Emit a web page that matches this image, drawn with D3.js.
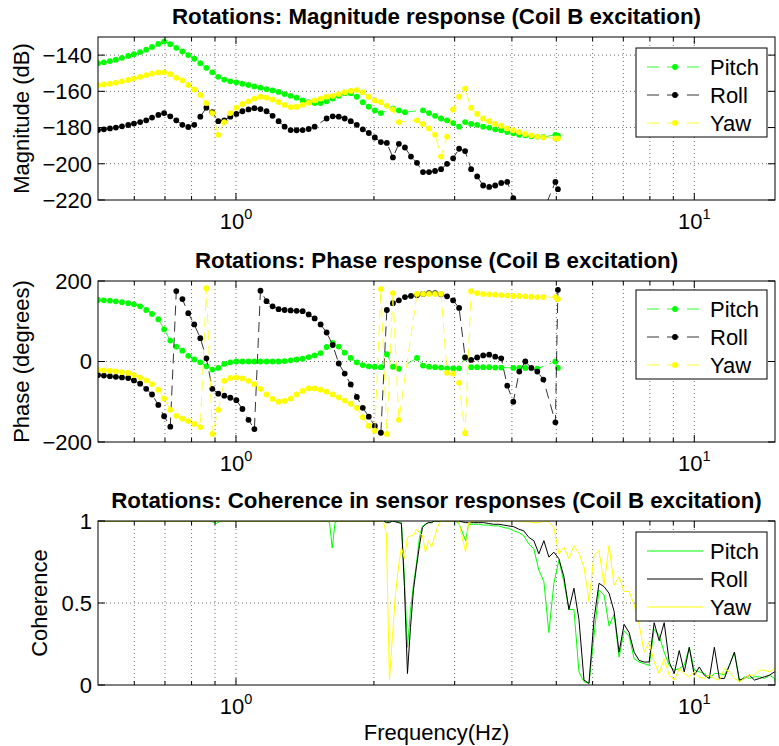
<!DOCTYPE html>
<html>
<head>
<meta charset="utf-8">
<script src="https://cdnjs.cloudflare.com/ajax/libs/d3/7.8.5/d3.min.js"></script>
<style>
body { margin: 0; background: #fff; }
svg text { font-family: "Liberation Sans", Arial, Helvetica, sans-serif; fill: #000; }
</style>
</head>
<body>
<svg id="fig" width="779" height="746"></svg>
<script>
//Rotations: transfer functions for Coil B excitation

// frequencies (Hz) of the magnitude / phase points
var freq = [0.500,0.515,0.531,0.547,0.564,0.582,0.599,0.618,0.637,0.656,
    0.677,0.697,0.719,0.741,0.764,0.787,0.811,0.836,0.862,0.888,
    0.915,0.943,0.972,1.002,1.033,1.065,1.097,1.131,1.166,1.202,
    1.239,1.277,1.316,1.356,1.398,1.441,1.485,1.530,1.577,1.626,
    1.676,1.727,1.780,1.835,1.891,1.949,2.009,2.071,2.134,2.200,
    2.267,2.337,2.409,2.483,2.559,2.638,2.719,2.802,2.888,2.977,
    3.068,3.162,3.259,3.359,3.462,3.569,3.678,3.791,3.908,4.028,
    4.151,4.279,4.410,4.545,4.685,4.829,4.977,5.040];

// magnitude (dB), null = no point
var magPitch = [-144.5,-144,-143.3,-142.5,-141.5,-140.5,-139.5,-138.3,-137,-135.5,
    -133.8,-132.5,-134,-136,-138,-140,-142,-144.5,-147,-149.5,
    -152,-153.5,-154.5,-155,-155.8,-156.5,-157.3,-158,-158.8,-159.5,
    -160.3,-161.5,-162.5,-163.5,-165,-166,-166.5,-166.5,-165.5,-164,
    -162.5,-161,-161,-163,-166,-168.5,-170.5,-172,null,-169.5,
    -170.5,-171.5,null,null,-170.5,-172,-173.5,-175,-176,-177.5,
    -179.5,-177,-178,-178.5,-179.5,-180,-181,-181.5,-182.5,-183.2,
    -184,-184.3,-184.8,-185,-185.2,null,-184,-184.5];
var magRoll = [-181.4,-181,-180.5,-180,-179.3,-178.6,-177.8,-177,-176,-174.5,
    -173,-172,-173.8,-176,-178.5,-179.7,-178.5,-174,-169,-171.5,
    -176.5,-176,-174,-172.5,-171,-170,-169.3,-169.8,-171,-173.5,
    -176.5,-179.5,-181.4,-181.5,-181.4,-180.8,-179.5,null,-175,-173.8,
    -174,-175,-176.5,-178.5,-181,-183,-185.5,-188,-188.5,-196.5,
    -189,-191,-196,-199.5,-204.6,-204.6,-204,-203,-200,-197,
    -191.7,-193,-203,-207,-212,-212.8,-212,-210.6,-210,-219,
    -228,-232,-232,-230,-226,null,-210,-214];
var magYaw = [-156.6,-156.2,-155.8,-155.2,-154.5,-153.7,-152.8,-152,-151,-150.2,
    -149.6,-149.5,-150.5,-152.5,-154,-156.5,-159,-162,-166.5,-172,
    -184,-177,-172,-169,-167,-165.5,-164,-163,-163.5,-164.5,
    -166,-167.5,-168.7,-168.5,-167.5,-166.3,-165,-164,-163,-162.5,
    -161.5,-160.5,-159.8,-159.3,-160.5,-163,-165,-166,-168,-170,
    -177,null,null,-176,-178,-180.5,-184,-196,-185,-170,
    -163,-158.5,-169,-172.5,-175,-176.5,-178,-179,-180.5,-181.5,
    -182.5,-183.5,-184.3,-185,-185.5,null,-186,-186];

// phase (degrees)
var phPitch = [152.8,152,151,149.5,147.5,145,142,137,128,118,
    105,80,52,37,27,14,5,-2,-12,-20,
    -16,-6,-2,0,0,0,0,0,0,0,
    0,1,3,5,7,11,15,21,36,46,
    37,22,9,-2,-9,-12,-13,-14,18,-13,
    -18,null,null,8.7,-10,-13,-14,-15,-17,-17,
    -17,10,-14,-14,-14,-14,-15,-15,null,-16,
    -16,-16,null,-18,null,null,0,-16];
var phRoll = [-33.5,-35,-36.5,-38,-39.5,-41,-47,-55,-68,-82,
    -108,-136,-162,175,155,120,92,58,8,-68,
    -80,-85,-90,-96,-118,-145,-168,176,150,137,
    130,128,127,126,125,117,107,92,72,41,
    -5,-30,-57,-88,-115,-137,-160,-177,128,145,
    152,160,163,165,168,170,170,167,162,152,
    133,10,4,10,15,17,12,8,-60,-100,
    -25,0,-16,-25,-45,null,-151,178];
var phYaw = [-21,-22,-23,-24.5,-26.5,-28.5,-34,-40,-47,-56,
    -70,-92,-120,-135,-142,-148,-155,-163,182,-180,
    -120,-48,-41,-40,-42,-48,-56,-68,-82,-93,
    -100,-98,-92,-82,-73,-67,-67,-70,-75,-82,
    -89,-97,-105,-115,-138,-160,-172,180,-180,170,
    -145,null,null,168,168,168,168,168,-28,-30,
    -53,-178,175,170,168,167,166,165,164,163,
    163,162,161,160,160,null,160,155];

// frequencies (Hz) of the coherence estimate
var cohFreq = [0.5,0.88,0.905,0.93,1.58,1.60,1.622,1.645,1.67,2.0,2.03,
    2.066,2.097,2.129,2.162,2.195,2.228,2.262,2.296,2.331,2.367,2.403,
    2.439,2.476,2.514,2.552,2.591,2.630,2.670,2.711,2.752,2.794,2.837,
    2.910,2.984,3.060,3.170,3.218,
    3.300,3.385,3.471,3.560,3.651,3.744,3.839,3.937,4.038,4.141,
    4.246,4.355,4.466,4.580,4.697,4.816,4.939,5.065,5.194,5.327,
    5.463,5.602,5.745,5.892,6.042,6.196,6.354,6.516,6.683,6.853,
    7.028,7.207,7.391,7.580,7.773,7.971,8.175,8.383,8.597,8.816,
    9.041,9.272,9.508,9.751,10.0,10.255,10.517,10.785,11.06,11.342,
    11.631,11.928,12.232,12.544,12.864,13.192,13.528,13.873,14.227,14.59,
    14.962,15.0];
var cohPitch = [1,1,0.985,1,1,0.99,0.835,0.99,1,1,1,
    1,1,0.995,0.995,1,1,0.995,0.99,0.65,0.23,0.45,
    0.61,0.74,0.9,0.97,0.98,0.99,0.99,1,1,1,1,
    1,1,0.99,0.88,0.98,
    0.98,0.98,0.975,0.975,0.97,0.97,0.96,0.955,0.94,0.93,
    0.91,0.86,0.83,0.70,0.63,0.32,0.62,0.76,0.63,0.46,
    0.46,0.08,0.02,0.01,0.3,0.58,0.55,0.36,0.43,0.17,
    0.33,0.3,0.16,0.14,0.13,0.12,0.34,0.3,0.2,0.12,
    0.09,0.1,0.12,0.23,0.09,0.08,0.07,0.04,0.07,0.07,
    0.06,0.12,0.2,0.02,0.05,0.04,0.05,0.05,0.04,0.06,
    0.04,0.02];
var cohRoll = [1,1,1,1,1,1,1,1,1,1,1,
    1,1,0.99,0.99,1,0.995,0.99,0.985,0.6,0.07,0.35,
    0.58,0.72,0.85,0.96,0.98,0.99,0.99,1,1,1,1,
    1,1,1,0.99,0.99,
    0.99,0.99,0.99,0.985,0.98,0.98,0.975,0.97,0.965,0.95,
    0.94,0.90,0.88,0.80,0.88,0.78,0.81,0.77,0.66,0.46,
    0.59,0.4,0.03,0.01,0.4,0.62,0.6,0.56,0.45,0.2,
    0.37,0.32,0.2,0.15,0.14,0.14,0.38,0.27,0.38,0.14,
    0.07,0.21,0.08,0.23,0.06,0.11,0.06,0.04,0.23,0.04,
    0.04,0.12,0.2,0.03,0.04,0.06,0.03,0.04,0.05,0.06,
    0.08,0.08];
var cohYaw = [1,1,1,1,1,1,1,1,1,1,1,
    1,1,0.92,0.03,0.3,0.55,0.72,0.84,0.77,0.9,0.91,
    0.91,0.95,0.93,0.91,0.81,0.88,0.84,0.9,0.96,1,1,
    1,1,1,0.81,0.99,
    1,1,1,1,1,1,1,1,1,1,
    0.995,0.995,0.99,0.99,1,0.995,0.96,0.8,0.84,0.77,
    0.85,0.8,0.72,0.51,0.79,0.82,0.61,0.85,0.61,0.66,
    0.57,0.57,0.49,0.37,0.2,0.26,0.14,0.07,0.16,0.06,
    0.03,0.1,0.07,0.05,0.08,0.05,0.04,0.06,0.04,0.03,
    0.1,0.08,0.04,0.02,0.04,0.06,0.06,0.09,0.09,0.08,
    0.1,0.1];

var seriesNames = ["Pitch", "Roll", "Yaw"];
var xTicks = [1, 10];
var magTicks = [-220, -200, -180, -160, -140];
var phaseTicks = [-200, 0, 200];
var cohTicks = [0, 0.5, 1];

var colors = ["#00ff00", "#000000", "#ffff00"];
var left = 98, right = 775;
var svg = d3.select("#fig");

var x = d3.scaleLog().domain([0.5, 15]).range([left, right]);

// log grid: every integer multiple of each decade
var xGrid = [];
[0.1, 1, 10].forEach(function(dec){
    for (var k = 1; k < 10; k++) {
        var v = k * dec;
        if (v > 0.5 && v < 15) xGrid.push(v);
    }
});

var panels = [
    {top: 37, bottom: 200, yDomain: [-220, -130], yTicks: magTicks,
     title: "Rotations: Magnitude response (Coil B excitation)", ylabel: "Magnitude (dB)", ylabelX: 29,
     xs: freq, series: [magPitch, magRoll, magYaw], markers: true, legendTop: 48},
    {top: 281, bottom: 442, yDomain: [-200, 200], yTicks: phaseTicks,
     title: "Rotations: Phase response (Coil B excitation)", ylabel: "Phase (degrees)", ylabelX: 29,
     xs: freq, series: [phPitch, phRoll, phYaw], markers: true, legendTop: 290},
    {top: 521, bottom: 685, yDomain: [0, 1], yTicks: cohTicks,
     title: "Rotations: Coherence in sensor responses (Coil B excitation)", ylabel: "Coherence", ylabelX: 47,
     xs: cohFreq, series: [cohPitch, cohRoll, cohYaw], markers: false, legendTop: 532}
];

var defs = svg.append("defs");

panels.forEach(function(p, pi){
    var y = d3.scaleLinear().domain(p.yDomain).range([p.bottom, p.top]);
    var g = svg.append("g");

    defs.append("clipPath").attr("id", "clip" + pi)
        .append("rect")
            .attr("x", left).attr("y", p.top)
            .attr("width", right - left).attr("height", p.bottom - p.top);

    // dotted grid
    g.selectAll(".vgrid").data(xGrid).enter()
        .append("line")
            .attr("x1", d => x(d)).attr("x2", d => x(d))
            .attr("y1", p.top).attr("y2", p.bottom)
            .attr("stroke", "#444").attr("stroke-width", 0.8)
            .attr("stroke-dasharray", "1,3");
    g.selectAll(".hgrid").data(p.yTicks.filter(d => y(d) > p.top + 1 && y(d) < p.bottom - 1)).enter()
        .append("line")
            .attr("x1", left).attr("x2", right)
            .attr("y1", d => y(d)).attr("y2", d => y(d))
            .attr("stroke", "#444").attr("stroke-width", 0.8)
            .attr("stroke-dasharray", "1,3");

    // data
    var dg = g.append("g").attr("clip-path", "url(#clip" + pi + ")");
    p.series.forEach(function(vals, si){
        var pts = p.xs.map((f, i) => [f, vals[i]]).filter(d => d[1] !== null);
        var line = d3.line().x(d => x(d[0])).y(d => y(d[1]));
        dg.append("path")
            .datum(pts)
            .attr("d", line)
            .attr("fill", "none")
            .attr("stroke", colors[si])
            .attr("stroke-width", p.markers ? 0.8 : 1)
            .attr("stroke-dasharray", p.markers ? "10,6" : null);
        if (p.markers) {
            dg.selectAll(".dot" + si).data(pts).enter()
                .append("circle")
                    .attr("cx", d => x(d[0]))
                    .attr("cy", d => y(d[1]))
                    .attr("r", 2.9)
                    .attr("fill", colors[si]);
        }
    });

    // box + inward ticks
    g.append("rect")
        .attr("x", left).attr("y", p.top)
        .attr("width", right - left).attr("height", p.bottom - p.top)
        .attr("fill", "none").attr("stroke", "#000").attr("stroke-width", 1);
    xGrid.forEach(function(v){
        var len = xTicks.indexOf(v) >= 0 ? 7 : 4;
        g.append("line").attr("x1", x(v)).attr("x2", x(v)).attr("y1", p.bottom).attr("y2", p.bottom - len).attr("stroke", "#000");
        g.append("line").attr("x1", x(v)).attr("x2", x(v)).attr("y1", p.top).attr("y2", p.top + len).attr("stroke", "#000");
    });
    p.yTicks.forEach(function(v){
        g.append("line").attr("x1", left).attr("x2", left + 7).attr("y1", y(v)).attr("y2", y(v)).attr("stroke", "#000");
        g.append("line").attr("x1", right).attr("x2", right - 7).attr("y1", y(v)).attr("y2", y(v)).attr("stroke", "#000");
    });

    // tick labels
    g.selectAll(".ylab").data(p.yTicks).enter()
        .append("text")
            .attr("x", left - 6)
            .attr("y", d => y(d))
            .attr("dy", "0.36em")
            .attr("text-anchor", "end")
            .style("font-size", "22px")
            .text(d => d < 0 ? "\u2212" + Math.abs(d) : d);
    xTicks.forEach(function(v){
        var t = g.append("text")
            .attr("x", x(v))
            .attr("y", p.bottom + 29)
            .attr("text-anchor", "middle")
            .style("font-size", "22px");
        t.append("tspan").text("10");
        t.append("tspan").attr("dy", -10).style("font-size", "14.5px").text(Math.round(Math.log10(v)));
    });

    // title and y label
    g.append("text")
        .attr("x", (left + right) / 2)
        .attr("y", p.top - 13)
        .attr("text-anchor", "middle")
        .style("font-size", "22.3px")
        .style("font-weight", "bold")
        .text(p.title);
    g.append("text")
        .attr("transform", "translate(" + p.ylabelX + "," + (p.top + p.bottom) / 2 + ") rotate(-90)")
        .attr("text-anchor", "middle")
        .style("font-size", "22px")
        .text(p.ylabel);

    // legend
    var lg = g.append("g").attr("transform", "translate(636," + p.legendTop + ")");
    lg.append("rect")
        .attr("width", 131).attr("height", 89)
        .attr("fill", "#fff").attr("stroke", "#000");
    seriesNames.forEach(function(name, si){
        var ry = 19 + si * 28;
        lg.append("line")
            .attr("x1", 11).attr("x2", 67).attr("y1", ry).attr("y2", ry)
            .attr("stroke", colors[si]).attr("stroke-width", p.markers ? 0.8 : 1)
            .attr("stroke-dasharray", p.markers ? "12,8" : null);
        if (p.markers) {
            lg.append("circle").attr("cx", 39).attr("cy", ry).attr("r", 2.9).attr("fill", colors[si]);
        }
        lg.append("text")
            .attr("x", 74).attr("y", ry).attr("dy", "0.36em")
            .style("font-size", "22px")
            .text(name);
    });
});

svg.append("text")
    .attr("x", (left + right) / 2)
    .attr("y", 740)
    .attr("text-anchor", "middle")
    .style("font-size", "22px")
    .text("Frequency(Hz)");
</script>
</body>
</html>
